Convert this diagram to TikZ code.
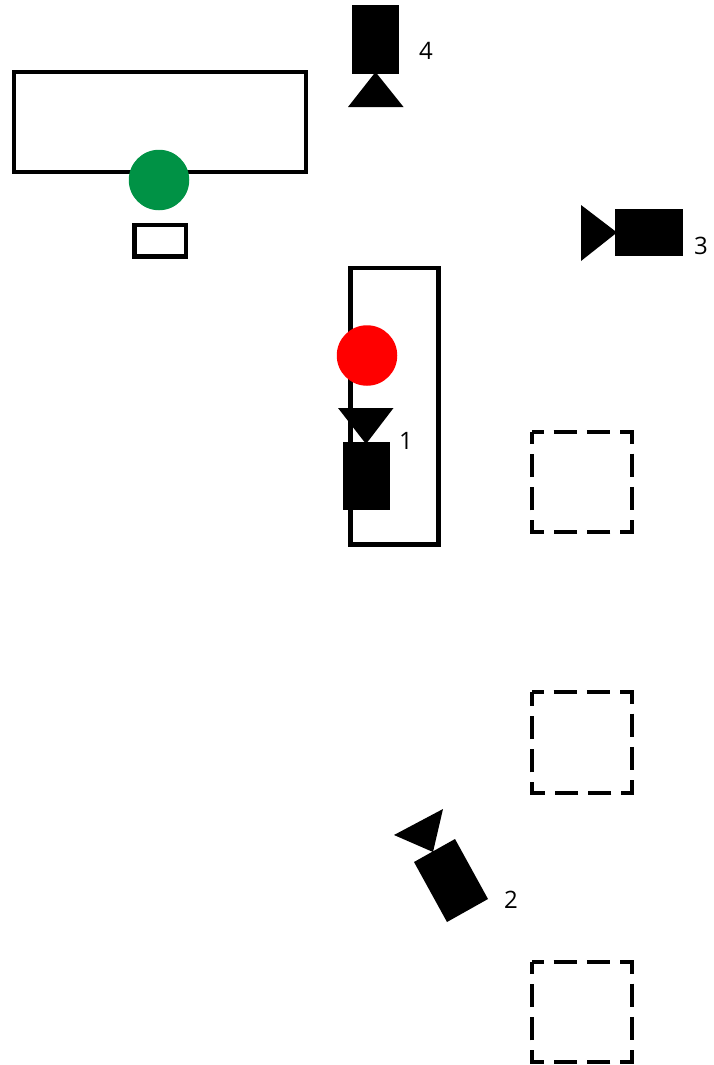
\documentclass[tikz,border=0pt]{standalone}
\usepackage{fontspec}
\setmainfont{Open Sans}
\definecolor{dotgreen}{RGB}{0,146,69}
\tikzset{
 px/.style={x=1pt,y=-1pt},
 box/.style={draw=black,line width=4.4pt,fill=none},
 dash box/.style={draw=black,line width=4.4pt,dash pattern=on 23.5pt off 9.83pt,dash phase=11.75pt},
 solid shape/.style={fill=black,draw=none},
 dot/.style={circle,minimum size=60.5pt,inner sep=0pt},
 num/.style={font=\fontsize{24}{26}\selectfont,inner sep=0pt}
}
\begin{document}
\begin{tikzpicture}[px]
\useasboundingbox (0,0) rectangle (714,1065);
\draw[box] (14,72) rectangle (306,171.7);
\draw[box] (134.5,224.7) rectangle (186,256.3);
\draw[box] (350.6,268) rectangle (438.5,544.5);
\node[dot,fill=dotgreen] (g) at (159,180) {};
\node[dot,fill=red] (r) at (367,355.5) {};
\fill[solid shape] (342.5,442) rectangle (390,510);
\fill[solid shape] (338,408) -- (393.5,408) -- (366,444) -- cycle;
\fill[solid shape] (352,5.5) rectangle (399,74);
\fill[solid shape] (348,107) -- (403.5,107) -- (375.5,72) -- cycle;
\fill[solid shape] (614.5,209) rectangle (683,256);
\fill[solid shape] (581,205) -- (581,261) -- (617,232.5) -- cycle;
\fill[solid shape] (414,862) -- (455,839) -- (488,899) -- (447,922) -- cycle;
\fill[solid shape] (394,835) -- (443,809) -- (433,852) -- cycle;
\draw[dash box] (532,432) -- (632,432) -- (632,532) -- (532,532) -- cycle;
\draw[dash box] (532,692) -- (632,692) -- (632,793) -- (532,793) -- cycle;
\draw[dash box] (532,962) -- (632,962) -- (632,1062) -- (532,1062) -- cycle;
\node[num] (n1) at (406,441) {1};
\node[num] (n2) at (511,900) {2};
\node[num] (n3) at (701,246) {3};
\node[num] (n4) at (426,51) {4};
\end{tikzpicture}
\end{document}
